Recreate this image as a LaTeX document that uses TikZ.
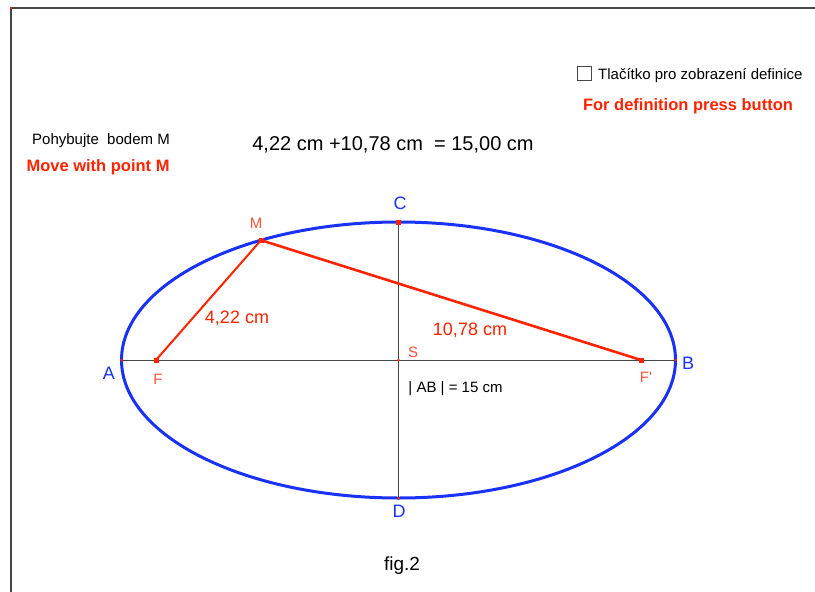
\documentclass[tikz,border=0pt]{standalone}
\usepackage{fontspec}
\setmainfont{Liberation Sans}
\usetikzlibrary{positioning}
\definecolor{ggblue}{RGB}{25,50,245}
\definecolor{ggred}{RGB}{255,35,0}
\definecolor{ggpink}{RGB}{255,80,60}
\definecolor{gggray}{RGB}{70,70,70}
\newcommand{\gfs}[1]{\fontsize{#1}{#1}\selectfont}
\tikzset{
  frame/.style={draw=gggray, line width=1.2pt},
  axis/.style={draw=gggray, line width=0.9pt},
  curve/.style={draw=ggblue, line width=3pt},
  seg/.style={draw=ggred, line width=2pt},
  sq/.style={rectangle, fill=ggred, inner sep=0pt, minimum size=5pt},
  dot/.style={circle, fill=ggred, inner sep=0pt, minimum size=3pt},
  vlbl/.style={font=\gfs{18}, text=ggblue, inner sep=0pt, anchor=base},
  plbl/.style={font=\gfs{15}, text=ggpink, inner sep=0pt, anchor=base},
  dlbl/.style={font=\gfs{18}, text=ggred, inner sep=0pt, anchor=base},
  txt/.style={font=\gfs{15}, inner sep=0pt, anchor=base},
  hint/.style={font=\bfseries\gfs{16.5}, text=ggred, inner sep=0pt, anchor=base},
  cbox/.style={rectangle, draw=gggray, line width=1pt, inner sep=0pt, minimum size=14pt}
}
\begin{document}
\begin{tikzpicture}[x=1pt,y=-1pt]
  \useasboundingbox (0,0) rectangle (815,592);
  \coordinate (O) at (11,8);
  \coordinate (Ob) at (11,592);
  \coordinate (Or) at (815,8);
  \draw[frame] (Ob) -- (O) -- (Or);
  \node[dot, minimum size=2.5pt] (mO) at (O) {};
  \coordinate (S) at (398.5,360);
  \coordinate (A) at (121.5,360);
  \coordinate (B) at (675.5,360);
  \coordinate (C) at (398.5,222);
  \coordinate (D) at (398.5,498);
  \coordinate (F) at (156,360);
  \coordinate (Fp) at (641,360);
  \coordinate (M) at (261,240.2);
  \draw[axis] (A) -- (B);
  \draw[axis] (C) -- (D);
  \draw[curve] (S) ellipse [x radius=277pt, y radius=138pt];
  \draw[seg] (F) -- (M);
  \draw[seg, line width=2.6pt] (M) -- (Fp);
  \foreach \p in {F,Fp,M,C}
    \node[sq] (m\p) at (\p) {};
  \foreach \p in {A,B,S,D}
    \node[dot] (m\p) at (\p) {};
  \node[vlbl] (lA) at (109,379) {A};
  \node[vlbl] (lB) at (688,369) {B};
  \node[vlbl] (lC) at (400,209) {C};
  \node[vlbl] (lD) at (399,517) {D};
  \node[plbl] (lM) at (256,228) {M};
  \node[plbl] (lF) at (158,384) {F};
  \node[plbl] (lFp) at (646,382) {F\textquotesingle};
  \node[plbl] (lS) at (413,357) {S};
  \node[dlbl] (dMF) at (237,323) {4,22 cm};
  \node[dlbl] (dMFp) at (470,335) {10,78 cm};
  \node[txt] (ab) at (455.5,392) {| AB | = 15 cm};
  \node[txt, font=\gfs{20}] (sum) at (393,150) {4,22 cm +10,78 cm\ \ = 15,00 cm};
  \node[txt] (move) at (101,144) {Pohybujte\ \ bodem M};
  \node[hint] (moveen) at (98,171) {Move with point M};
  \node[cbox] (btn) at (584.5,73.5) {};
  \node[txt, anchor=base west] (def) at (598,79) {Tlačítko pro zobrazení definice};
  \node[hint] (defen) at (688,110) {For definition press button};
  \node[txt, font=\gfs{19}] (fig) at (402,570) {fig.2};
\end{tikzpicture}
\end{document}
